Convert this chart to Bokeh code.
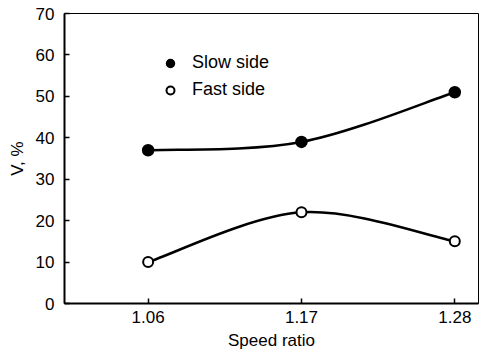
from bokeh.plotting import figure
from bokeh.models import FixedTicker, Range1d, Legend, LegendItem
from bokeh.embed import file_html
from bokeh.resources import INLINE

speed_ratio = [1.06, 1.17, 1.28]
slow_side = [37, 39, 51]
fast_side = [10, 22, 15]
x_ticks = [1.06, 1.17, 1.28]
y_ticks = [0, 10, 20, 30, 40, 50, 60, 70]

FONT = "Liberation Sans"

p = figure(width=480, height=356, output_backend="svg", toolbar_location=None,
           x_range=Range1d(1.0, 1.297), y_range=Range1d(0, 70),
           min_border_left=64, min_border_top=13, min_border_right=2, min_border_bottom=53)
p.grid.visible = False
p.outline_line_color = "black"
p.outline_line_width = 1
p.background_fill_color = "white"
p.border_fill_color = "white"


def catmull_bezier(xs, ys):
    n = len(xs)
    x0, y0, x1, y1, cx0, cy0, cx1, cy1 = [], [], [], [], [], [], [], []
    for i in range(n - 1):
        im1 = max(i - 1, 0)
        ip2 = min(i + 2, n - 1)
        x0.append(xs[i]); y0.append(ys[i])
        x1.append(xs[i + 1]); y1.append(ys[i + 1])
        cx0.append(xs[i] + (xs[i + 1] - xs[im1]) / 6.0)
        cy0.append(ys[i] + (ys[i + 1] - ys[im1]) / 6.0)
        cx1.append(xs[i + 1] - (xs[ip2] - xs[i]) / 6.0)
        cy1.append(ys[i + 1] - (ys[ip2] - ys[i]) / 6.0)
    return dict(x0=x0, y0=y0, x1=x1, y1=y1, cx0=cx0, cy0=cy0, cx1=cx1, cy1=cy1)


for ys in (slow_side, fast_side):
    b = catmull_bezier(speed_ratio, ys)
    p.bezier(x0=b["x0"], y0=b["y0"], x1=b["x1"], y1=b["y1"],
             cx0=b["cx0"], cy0=b["cy0"], cx1=b["cx1"], cy1=b["cy1"],
             line_color="black", line_width=2.5)

r_slow = p.scatter(speed_ratio, slow_side, marker="circle", size=11,
                   fill_color="black", line_color="black", line_width=1.5)
r_fast = p.scatter(speed_ratio, fast_side, marker="circle", size=10,
                   fill_color="white", line_color="black", line_width=2)

legend = Legend(items=[LegendItem(label="Slow side", renderers=[r_slow]),
                       LegendItem(label="Fast side", renderers=[r_fast])],
                location=(96, 203), border_line_color=None, background_fill_alpha=0,
                padding=0, margin=0, spacing=6, glyph_width=20, glyph_height=20,
                label_height=20, label_standoff=12,
                label_text_font=FONT, label_text_font_size="18px", label_text_color="black")
p.add_layout(legend, "center")

p.xaxis.ticker = FixedTicker(ticks=x_ticks)
p.yaxis.ticker = FixedTicker(ticks=y_ticks)
p.xaxis.major_label_overrides = {t: f"{t:.2f}" for t in x_ticks}
for ax in (p.xaxis, p.yaxis):
    ax.axis_line_width = 2
    ax.axis_line_color = "black"
    ax.major_tick_in = 5
    ax.major_tick_out = 0
    ax.major_tick_line_width = 1.5
    ax.minor_tick_line_color = None
    ax.major_label_text_font = FONT
    ax.major_label_text_font_size = "17px"
    ax.major_label_text_color = "black"
    ax.axis_label_text_font = FONT
    ax.axis_label_text_font_size = "17px"
    ax.axis_label_text_font_style = "normal"
    ax.axis_label_text_color = "black"
p.xaxis.axis_label = "Speed ratio"
p.yaxis.axis_label = "V, %"
p.xaxis.major_label_standoff = 7
p.yaxis.major_label_standoff = 10
p.xaxis.axis_label_standoff = 5
p.yaxis.axis_label_standoff = 6

open("out.html", "w").write(file_html(p, INLINE))
